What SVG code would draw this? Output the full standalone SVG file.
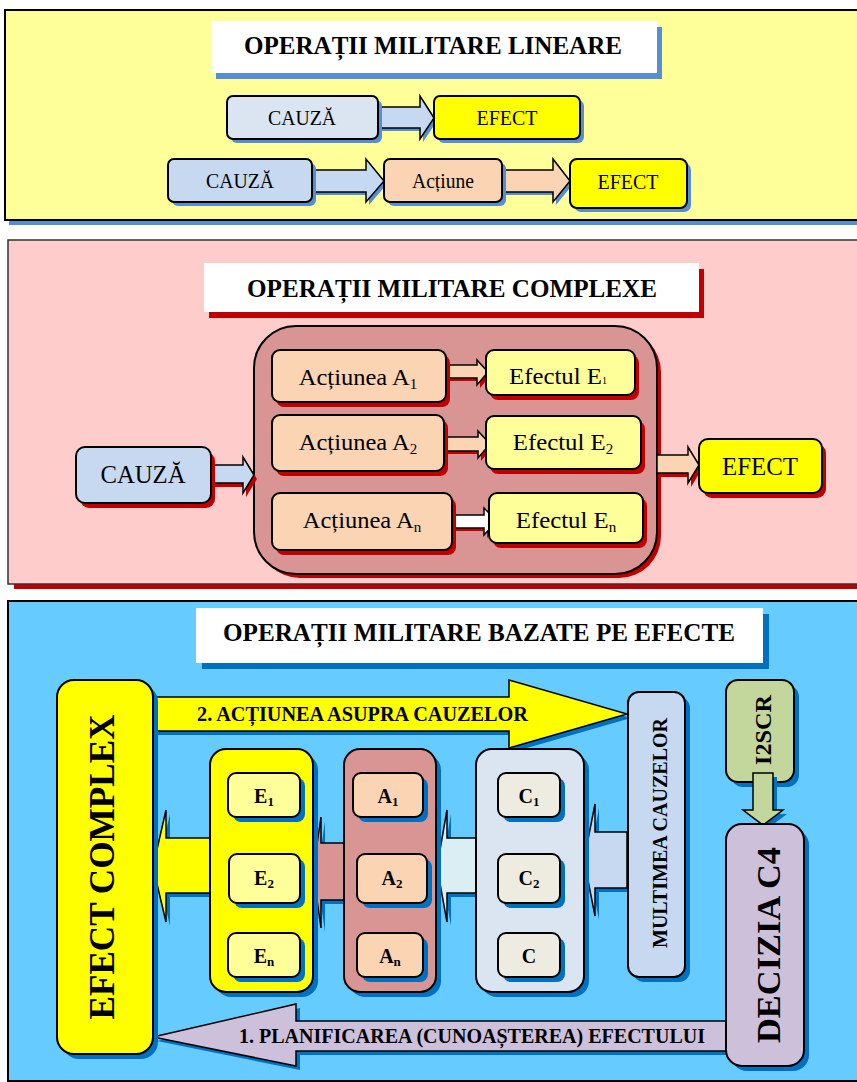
<svg xmlns="http://www.w3.org/2000/svg" width="857" height="1082" viewBox="0 0 857 1082">
<style>
text{font-family:"Liberation Serif","Times New Roman","DejaVu Serif",serif;fill:#000}
.r{font-weight:normal;font-style:normal}
.b{font-weight:bold}
.m{text-anchor:middle}
.k{stroke:#000;stroke-width:2}
.ka{stroke:#000;stroke-width:1.5;stroke-linejoin:miter}
.sh1{fill:#558ED5}
.sh2{fill:#C00000}
.sh3{fill:#0070C0}
.white{fill:#fff}
.yel{fill:#FFFF00}
.ly{fill:#FFFF99}
.pb{fill:#DBE5F1}
.lb{fill:#C6D9F1}
.pe{fill:#FBD4B4}
.rose{fill:#D99594}
.cy{fill:#DAEEF3}
.cr{fill:#EEECE1}
.gr{fill:#C3D69B}
.li{fill:#CCC0DA}
</style>

<!-- ============ SECTION 1 ============ -->
<g id="panel1">
  <rect x="9" y="14" width="870" height="211" class="sh1"/>
  <rect x="5" y="10" width="870" height="210" fill="#FFFF99" class="k"/>
</g>
<g id="title1">
  <rect x="216" y="27" width="446" height="52" class="sh1"/>
  <rect x="211" y="21" width="446" height="52" class="white"/>
  <text x="433" y="54" class="b m" font-size="25" textLength="378" lengthAdjust="spacingAndGlyphs">OPERAȚII MILITARE LINEARE</text>
</g>
<g id="connectors1">
  <polygon points="381,110 423,110 423,99 437,121 423,142 423,131 381,131" class="sh1"/>
  <polygon points="378,107 420,107 420,96 434,118 420,139 420,128 378,128" class="lb ka"/>
  <polygon points="315,173 369,173 369,162 387,184 369,205 369,195 315,195" class="sh1"/>
  <polygon points="312,170 366,170 366,159 384,181 366,202 366,192 312,192" class="lb ka"/>
  <polygon points="505,173 556,173 556,162 573,184 556,205 556,195 505,195" class="sh1"/>
  <polygon points="502,170 553,170 553,159 570,181 553,202 553,192 502,192" class="pe ka"/>
</g>
<g id="cauza1a">
  <rect x="231" y="100" width="151" height="43" rx="6" class="sh1"/>
  <rect x="227" y="96" width="151" height="43" rx="6" class="pb k"/>
  <text x="302" y="125" class="r m" font-size="20" textLength="68" lengthAdjust="spacingAndGlyphs">CAUZĂ</text>
</g>
<g id="efect1a">
  <rect x="438" y="100" width="146" height="43" rx="6" class="sh1"/>
  <rect x="434" y="96" width="146" height="43" rx="6" class="yel k"/>
  <text x="507" y="125" class="r m" font-size="20" textLength="61" lengthAdjust="spacingAndGlyphs">EFECT</text>
</g>
<g id="cauza1b">
  <rect x="172" y="163" width="144" height="43" rx="6" class="sh1"/>
  <rect x="168" y="159" width="144" height="43" rx="6" class="lb k"/>
  <text x="240" y="188" class="r m" font-size="20" textLength="68" lengthAdjust="spacingAndGlyphs">CAUZĂ</text>
</g>
<g id="actiune1b">
  <rect x="388" y="163" width="118" height="43" rx="6" class="sh1"/>
  <rect x="384" y="159" width="118" height="43" rx="6" class="pe k"/>
  <text x="443" y="188" class="r m" font-size="20" textLength="62" lengthAdjust="spacingAndGlyphs">Acțiune</text>
</g>
<g id="efect1b">
  <rect x="574" y="163" width="117" height="49" rx="7" class="sh1"/>
  <rect x="570" y="159" width="117" height="49" rx="7" class="yel k"/>
  <text x="628" y="189" class="r m" font-size="20" textLength="61" lengthAdjust="spacingAndGlyphs">EFECT</text>
</g>

<!-- ============ SECTION 2 ============ -->
<g id="panel2">
  <rect x="14" y="245" width="870" height="344" class="sh2"/>
  <rect x="8" y="240" width="870" height="344" fill="#FFCCCC" stroke="#333" stroke-width="1.5"/>
</g>
<g id="title2">
  <rect x="209" y="269" width="495" height="49" class="sh2"/>
  <rect x="204" y="263" width="495" height="49" class="white"/>
  <text x="452" y="297" class="b m" font-size="25" textLength="410" lengthAdjust="spacingAndGlyphs">OPERAȚII MILITARE COMPLEXE</text>
</g>
<g id="container2">
  <rect x="258" y="330" width="403" height="248" rx="42" class="sh2"/>
  <rect x="254" y="326" width="403" height="248" rx="42" class="rose k"/>
</g>
<g id="connectors2">
  <polygon points="214,469 246,469 246,461 257,479 246,497 246,487 214,487" class="sh2"/>
  <polygon points="211,465 243,465 243,457 254,475 243,493 243,483 211,483" class="lb ka"/>
  <polygon points="449,368 480,368 480,363 491,375 480,388 480,381 449,381" class="sh2"/>
  <polygon points="446,365 477,365 477,360 488,372 477,385 477,378 446,378" class="pe ka"/>
  <polygon points="447,440 481,440 481,434 493,447 481,461 481,454 447,454" class="sh2"/>
  <polygon points="444,437 478,437 478,431 490,444 478,458 478,451 444,451" class="pe ka"/>
  <polygon points="455,518 487,518 487,511 500,524 487,538 487,531 455,531" class="sh2"/>
  <polygon points="452,515 484,515 484,508 497,521 484,535 484,528 452,528" class="white ka"/>
  <polygon points="660,459 691,459 691,451 702,469 691,487 691,477 660,477" class="sh2"/>
  <polygon points="657,455 688,455 688,447 699,465 688,483 688,473 657,473" class="pe ka"/>
</g>
<g id="cauza2">
  <rect x="80" y="452" width="135" height="56" rx="9" class="sh2"/>
  <rect x="76" y="447" width="135" height="56" rx="9" class="lb k"/>
  <text x="143" y="483" class="r m" font-size="25" textLength="85" lengthAdjust="spacingAndGlyphs">CAUZĂ</text>
</g>
<g id="actiuneA1">
  <rect x="276" y="355" width="174" height="52" rx="8" class="sh2"/>
  <rect x="272" y="350" width="174" height="52" rx="8" class="pe k"/>
  <text x="358" y="385" class="r m" font-size="24"><tspan textLength="111" lengthAdjust="spacingAndGlyphs">Acțiunea A</tspan><tspan font-size="15" dy="4">1</tspan></text>
</g>
<g id="actiuneA2">
  <rect x="276" y="420" width="172" height="56" rx="8" class="sh2"/>
  <rect x="272" y="415" width="172" height="56" rx="8" class="pe k"/>
  <text x="358" y="450" class="r m" font-size="24"><tspan textLength="111" lengthAdjust="spacingAndGlyphs">Acțiunea A</tspan><tspan font-size="15" dy="4">2</tspan></text>
</g>
<g id="actiuneAn">
  <rect x="276" y="498" width="180" height="57" rx="8" class="sh2"/>
  <rect x="272" y="493" width="180" height="57" rx="8" class="pe k"/>
  <text x="362" y="528" class="r m" font-size="24"><tspan textLength="111" lengthAdjust="spacingAndGlyphs">Acțiunea A</tspan><tspan font-size="15" dy="4">n</tspan></text>
</g>
<g id="efectulE1">
  <rect x="490" y="355" width="149" height="45" rx="8" class="sh2"/>
  <rect x="486" y="350" width="149" height="45" rx="8" class="ly k"/>
  <text x="558" y="384" class="r m" font-size="24"><tspan textLength="93" lengthAdjust="spacingAndGlyphs">Efectul E</tspan><tspan font-size="10">1</tspan></text>
</g>
<g id="efectulE2">
  <rect x="490" y="421" width="155" height="53" rx="8" class="sh2"/>
  <rect x="486" y="416" width="155" height="53" rx="8" class="ly k"/>
  <text x="563" y="450" class="r m" font-size="24"><tspan textLength="93" lengthAdjust="spacingAndGlyphs">Efectul E</tspan><tspan font-size="15" dy="4">2</tspan></text>
</g>
<g id="efectulEn">
  <rect x="493" y="498" width="154" height="50" rx="8" class="sh2"/>
  <rect x="489" y="493" width="154" height="50" rx="8" class="ly k"/>
  <text x="566" y="528" class="r m" font-size="24"><tspan textLength="93" lengthAdjust="spacingAndGlyphs">Efectul E</tspan><tspan font-size="15" dy="4">n</tspan></text>
</g>
<g id="efect2">
  <rect x="703" y="444" width="123" height="54" rx="9" class="sh2"/>
  <rect x="699" y="439" width="123" height="54" rx="9" class="yel k"/>
  <text x="760" y="475" class="r m" font-size="25" textLength="76" lengthAdjust="spacingAndGlyphs">EFECT</text>
</g>

<!-- ============ SECTION 3 ============ -->
<g id="panel3">
  <rect x="8" y="601" width="870" height="480" fill="#66CCFF" class="k"/>
</g>
<g id="title3">
  <rect x="202" y="614" width="567" height="55" class="sh3"/>
  <rect x="196" y="608" width="567" height="55" class="white"/>
  <text x="479" y="641" class="b m" font-size="25" textLength="512" lengthAdjust="spacingAndGlyphs">OPERAȚII MILITARE BAZATE PE EFECTE</text>
</g>
<g id="connectors3">
  <polygon points="157,701 513,701 513,684 631,718 513,752 513,735 157,735" class="sh3"/>
  <polygon points="153,697 509,697 509,680 627,714 509,748 509,731 153,731" class="yel ka"/>
  <text x="197" y="721" class="b" font-size="20" textLength="331" lengthAdjust="spacingAndGlyphs">2. ACȚIUNEA ASUPRA CAUZELOR</text>
  <polygon points="730,1025 300,1025 300,1008 157,1041 300,1070 300,1055 730,1055" class="sh3"/>
  <polygon points="726,1021 296,1021 296,1004 153,1037 296,1066 296,1051 726,1051" class="li ka"/>
  <text x="239" y="1043" class="b" font-size="20" textLength="466" lengthAdjust="spacingAndGlyphs">1. PLANIFICAREA (CUNOAȘTEREA) EFECTULUI</text>
  <polygon points="214,842 170,842 170,814 157,871 170,926 170,897 214,897" class="sh3"/>
  <polygon points="210,838 166,838 166,810 153,867 166,922 166,893 210,893" class="yel ka"/>
  <polygon points="348,847 325,847 325,821 317,876 325,932 325,904 348,904" class="sh3"/>
  <polygon points="344,843 321,843 321,817 313,872 321,928 321,900 344,900" class="rose ka"/>
  <polygon points="480,842 451,842 451,814 441,871 451,926 451,897 480,897" class="sh3"/>
  <polygon points="476,838 447,838 447,810 437,867 447,922 447,893 476,893" class="cy ka"/>
  <polygon points="631,836 599,836 599,808 588,864 599,920 599,892 631,892" class="sh3"/>
  <polygon points="627,832 595,832 595,804 584,860 595,916 595,888 627,888" class="lb ka"/>
</g>
<g id="efectComplex">
  <rect x="62" y="685" width="96" height="374" rx="17" class="sh3"/>
  <rect x="57" y="680" width="96" height="374" rx="17" class="yel k"/>
  <text transform="translate(114,867) rotate(-90)" class="b m" font-size="36" textLength="305" lengthAdjust="spacingAndGlyphs">EFECT COMPLEX</text>
</g>
<g id="containerE">
  <rect x="215" y="754" width="103" height="243" rx="16" class="sh3"/>
  <rect x="210" y="749" width="103" height="243" rx="16" class="yel k"/>
</g>
<g id="E1">
  <rect x="233" y="778" width="72" height="44" rx="8" class="sh3"/>
  <rect x="228" y="773" width="72" height="44" rx="8" class="ly k"/>
  <text x="264" y="803" class="b m" font-size="20">E<tspan font-size="13" dy="3">1</tspan></text>
</g>
<g id="E2">
  <rect x="234" y="859" width="71" height="49" rx="8" class="sh3"/>
  <rect x="229" y="854" width="71" height="49" rx="8" class="ly k"/>
  <text x="264" y="885" class="b m" font-size="20">E<tspan font-size="13" dy="3">2</tspan></text>
</g>
<g id="En">
  <rect x="233" y="938" width="72" height="44" rx="8" class="sh3"/>
  <rect x="228" y="933" width="72" height="44" rx="8" class="ly k"/>
  <text x="264" y="963" class="b m" font-size="20">E<tspan font-size="13" dy="3">n</tspan></text>
</g>
<g id="containerA">
  <rect x="349" y="754" width="92" height="243" rx="16" class="sh3"/>
  <rect x="344" y="749" width="92" height="243" rx="16" class="rose k"/>
</g>
<g id="A1">
  <rect x="358" y="778" width="70" height="44" rx="8" class="sh3"/>
  <rect x="353" y="773" width="70" height="44" rx="8" class="pe k"/>
  <text x="388" y="803" class="b m" font-size="20">A<tspan font-size="13" dy="3">1</tspan></text>
</g>
<g id="A2">
  <rect x="362" y="859" width="70" height="49" rx="8" class="sh3"/>
  <rect x="357" y="854" width="70" height="49" rx="8" class="pe k"/>
  <text x="392" y="885" class="b m" font-size="20">A<tspan font-size="13" dy="3">2</tspan></text>
</g>
<g id="An">
  <rect x="362" y="938" width="66" height="44" rx="8" class="sh3"/>
  <rect x="357" y="933" width="66" height="44" rx="8" class="pe k"/>
  <text x="390" y="963" class="b m" font-size="20">A<tspan font-size="13" dy="3">n</tspan></text>
</g>
<g id="containerC">
  <rect x="481" y="754" width="108" height="243" rx="16" class="sh3"/>
  <rect x="476" y="749" width="108" height="243" rx="16" class="pb k"/>
</g>
<g id="C1">
  <rect x="503" y="778" width="62" height="44" rx="8" class="sh3"/>
  <rect x="498" y="773" width="62" height="44" rx="8" class="cr k"/>
  <text x="529" y="803" class="b m" font-size="20">C<tspan font-size="13" dy="3">1</tspan></text>
</g>
<g id="C2">
  <rect x="503" y="859" width="62" height="49" rx="8" class="sh3"/>
  <rect x="498" y="854" width="62" height="49" rx="8" class="cr k"/>
  <text x="529" y="885" class="b m" font-size="20">C<tspan font-size="13" dy="3">2</tspan></text>
</g>
<g id="C">
  <rect x="503" y="938" width="62" height="44" rx="8" class="sh3"/>
  <rect x="498" y="933" width="62" height="44" rx="8" class="cr k"/>
  <text x="529" y="963" class="b m" font-size="20">C</text>
</g>
<g id="multimea">
  <rect x="633" y="697" width="57" height="285" rx="11" class="sh3"/>
  <rect x="628" y="692" width="57" height="285" rx="11" class="lb k"/>
  <text transform="translate(667,833) rotate(-90)" class="b m" font-size="20" textLength="230" lengthAdjust="spacingAndGlyphs">MULTIMEA CAUZELOR</text>
</g>
<g id="i2scr">
  <rect x="731" y="685" width="68" height="102" rx="12" class="sh3"/>
  <rect x="726" y="680" width="68" height="102" rx="12" class="gr k"/>
  <text transform="translate(771,730) rotate(-90)" class="b m" font-size="24" textLength="70" lengthAdjust="spacingAndGlyphs">I2SCR</text>
</g>
<g id="connector-i2scr-decizia">
  <polygon points="757,777 777,777 777,814 787,814 767,829 747,814 757,814" class="sh3"/>
  <polygon points="753,773 773,773 773,810 783,810 763,825 743,810 753,810" class="gr ka"/>
</g>
<g id="decizia">
  <rect x="731" y="829" width="78" height="242" rx="16" class="sh3"/>
  <rect x="726" y="824" width="78" height="242" rx="16" class="li k"/>
  <text transform="translate(780,945) rotate(-90)" class="b m" font-size="34" textLength="196" lengthAdjust="spacingAndGlyphs">DECIZIA C4</text>
</g>
</svg>
